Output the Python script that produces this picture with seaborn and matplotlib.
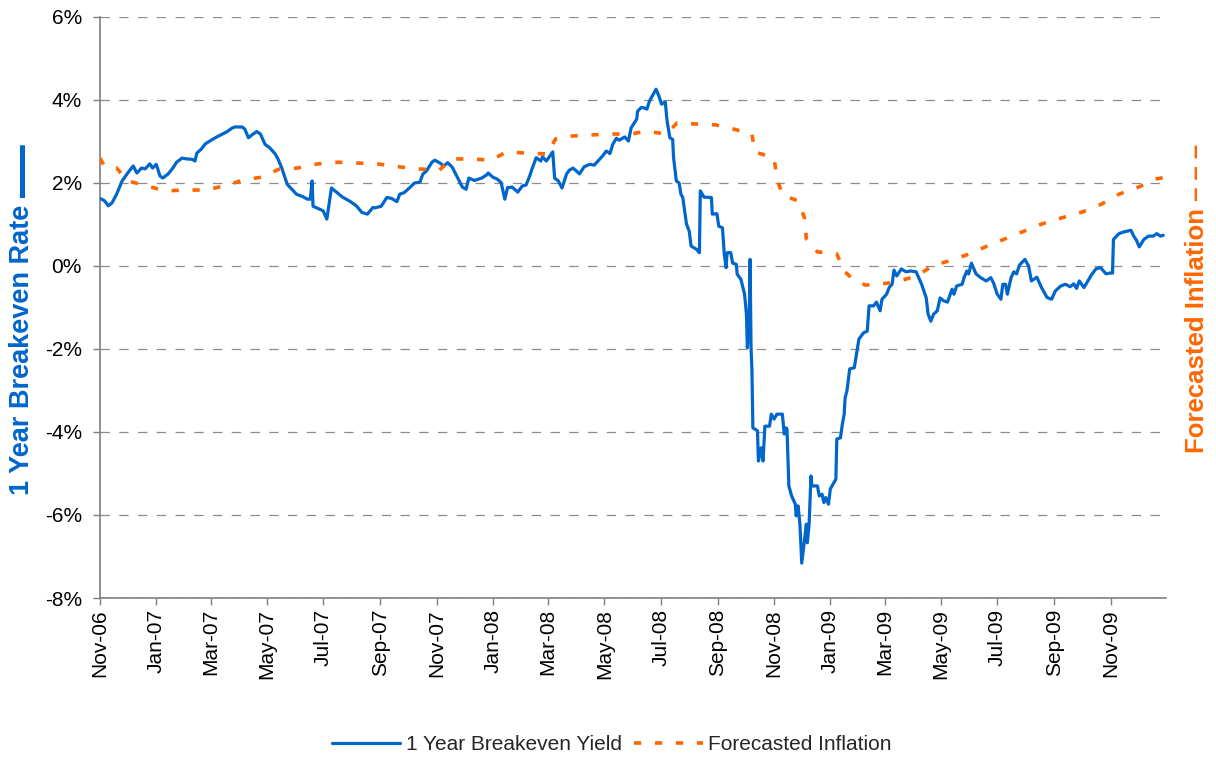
import numpy as np
import pandas as pd
import matplotlib
matplotlib.use("Agg")
import matplotlib.pyplot as plt
from matplotlib.ticker import FuncFormatter, MultipleLocator
import seaborn as sns

# ---------------- data (day offsets from 2006-11-01, values in %) ----------------
breakeven_days = [1, 5, 9, 13, 18, 24, 30, 36, 40, 45, 49, 54, 57, 61, 65, 68, 74, 79, 83, 89,
                  94, 100, 103, 105, 110, 114, 119, 125, 132, 138, 143, 146, 154, 157, 161, 166,
                  170, 174, 179, 184, 190, 193, 197, 203, 208, 213, 220, 225, 228, 230, 231, 236,
                  242, 246, 251, 257, 263, 271, 278, 284, 290, 296, 298, 305, 311, 316, 322, 325,
                  330, 336, 341, 347, 350, 354, 360, 363, 368, 373, 377, 382, 388, 393, 397, 400,
                  406, 414, 419, 421, 426, 431, 435, 439, 442, 447, 453, 458, 462, 466, 469, 473,
                  478, 480, 484, 491, 493, 497, 501, 506, 509, 513, 520, 525, 531, 536, 540, 545,
                  549, 553, 556, 560, 563, 569, 573, 576, 582, 583, 587, 590, 593, 596, 601, 603,
                  606, 609, 613, 615, 618, 621, 622, 625, 628, 630, 632, 636, 639, 641, 647, 650,
                  651, 655, 663, 664, 669, 671, 675, 677, 679, 680, 684, 686, 690, 691, 695, 699,
                  701, 702, 704, 705, 706, 707, 708, 713, 714, 717, 719, 721, 726, 728, 731, 734,
                  740, 742, 744, 745, 747, 750, 754, 755, 757, 759, 761, 766, 767, 769, 771, 772,
                  778, 780, 783, 785, 787, 790, 792, 796, 798, 799, 803, 805, 807, 808, 810, 813,
                  818, 820, 823, 828, 832, 834, 839, 842, 846, 848, 853, 856, 859, 861, 864, 869,
                  874, 879, 885, 887, 891, 896, 898, 901, 904, 908, 911, 915, 919, 924, 926, 929,
                  935, 937, 940, 942, 945, 950, 955, 961, 966, 969, 973, 977, 979, 982, 984, 988,
                  991, 994, 997, 1003, 1007, 1010, 1016, 1021, 1027, 1032, 1036, 1042, 1047, 1052,
                  1056, 1059, 1062, 1067, 1070, 1075, 1080, 1085, 1091, 1095, 1098, 1099, 1105,
                  1110, 1118, 1121, 1124, 1127, 1132, 1137, 1142, 1146, 1150, 1153]
breakeven_vals = [1.62, 1.57, 1.45, 1.52, 1.73, 2.05, 2.24, 2.41, 2.24, 2.36, 2.34, 2.46, 2.36, 2.45,
                  2.17, 2.12, 2.22, 2.36, 2.50, 2.60, 2.58, 2.57, 2.53, 2.72, 2.82, 2.94, 3.01, 3.09,
                  3.17, 3.24, 3.32, 3.35, 3.35, 3.30, 3.09, 3.18, 3.24, 3.18, 2.93, 2.85, 2.70, 2.58,
                  2.37, 1.97, 1.85, 1.73, 1.67, 1.61, 1.61, 2.05, 1.44, 1.39, 1.33, 1.13, 1.88, 1.77,
                  1.66, 1.56, 1.45, 1.29, 1.25, 1.41, 1.40, 1.44, 1.65, 1.63, 1.55, 1.73, 1.77, 1.89,
                  2.00, 2.02, 2.21, 2.29, 2.50, 2.55, 2.49, 2.41, 2.49, 2.38, 2.12, 1.90, 1.85, 2.12,
                  2.06, 2.12, 2.19, 2.24, 2.14, 2.09, 2.01, 1.61, 1.89, 1.90, 1.78, 1.93, 1.95, 2.17,
                  2.37, 2.61, 2.53, 2.63, 2.53, 2.75, 2.12, 2.05, 1.88, 2.22, 2.31, 2.36, 2.22, 2.39,
                  2.45, 2.43, 2.53, 2.65, 2.77, 2.71, 2.93, 3.08, 3.03, 3.11, 3.01, 3.33, 3.54, 3.73,
                  3.82, 3.81, 3.78, 3.98, 4.18, 4.26, 4.10, 3.90, 3.95, 3.49, 3.09, 3.05, 2.61, 2.05,
                  2.00, 1.73, 1.65, 1.01, 0.84, 0.48, 0.40, 0.32, 1.81, 1.66, 1.65, 1.25, 1.26, 0.96,
                  0.92, 0.28, -0.04, 0.32, 0.32, 0.07, 0.04, -0.20, -0.32, -0.68, -1.16, -1.97, -1.33,
                  0.16, -1.97, -2.53, -3.90, -3.97, -4.70, -4.38, -4.70, -3.86, -3.86, -3.57, -3.69,
                  -3.57, -3.57, -4.05, -3.90, -3.93, -5.30, -5.54, -5.74, -6.02, -5.78, -6.22, -7.16,
                  -6.22, -6.67, -6.22, -5.06, -5.30, -5.30, -5.54, -5.50, -5.70, -5.58, -5.74, -5.37,
                  -5.22, -5.14, -4.17, -4.14, -3.81, -3.57, -3.18, -3.01, -2.48, -2.45, -2.17, -1.76,
                  -1.61, -1.57, -0.96, -0.96, -0.87, -1.08, -0.80, -0.68, -0.51, -0.44, -0.10, -0.24,
                  -0.07, -0.14, -0.12, -0.14, -0.24, -0.44, -0.77, -1.16, -1.33, -1.16, -1.08, -0.77,
                  -0.84, -0.87, -0.56, -0.68, -0.48, -0.44, -0.28, -0.12, -0.19, 0.07, -0.19, -0.28,
                  -0.36, -0.28, -0.41, -0.68, -0.80, -0.44, -0.44, -0.68, -0.28, -0.14, -0.19, 0.02,
                  0.16, 0.00, -0.36, -0.27, -0.52, -0.76, -0.80, -0.60, -0.48, -0.44, -0.50, -0.43,
                  -0.54, -0.36, -0.52, -0.41, -0.22, -0.07, -0.04, -0.19, -0.17, -0.17, 0.64, 0.78,
                  0.82, 0.86, 0.72, 0.62, 0.46, 0.64, 0.72, 0.72, 0.78, 0.72, 0.74]

forecast_days = [0, 5, 18, 30, 51, 70, 92, 114, 135, 155, 175, 195, 214, 236, 258, 280, 301, 324,
                 345, 368, 381, 403, 424, 441, 462, 485, 494, 511, 534, 556, 576, 592, 614, 626,
                 647, 668, 687, 707, 710, 731, 734, 740, 757, 764, 766, 778, 799, 807, 815, 830,
                 847, 864, 887, 904, 924, 945, 962, 981, 1000, 1021, 1043, 1065, 1086, 1105, 1126,
                 1146, 1153]
forecast_vals = [2.60, 2.40, 2.36, 2.05, 1.93, 1.81, 1.83, 1.83, 1.93, 2.07, 2.14, 2.34, 2.36, 2.46,
                 2.50, 2.48, 2.46, 2.39, 2.34, 2.31, 2.58, 2.58, 2.55, 2.75, 2.72, 2.70, 3.06, 3.13,
                 3.16, 3.18, 3.18, 3.25, 3.18, 3.45, 3.42, 3.40, 3.30, 3.18, 2.75, 2.60, 2.12, 1.71,
                 1.57, 1.16, 0.65, 0.34, 0.29, -0.12, -0.29, -0.46, -0.43, -0.39, -0.22, 0.02, 0.14,
                 0.31, 0.48, 0.65, 0.82, 1.01, 1.16, 1.30, 1.49, 1.73, 1.90, 2.10, 2.13]

start_date = "2006-11-01"
end_date = "2009-12-31"
series_names = ["1 Year Breakeven Yield", "Forecasted Inflation"]
left_label = "1 Year Breakeven Rate"
left_mark = "\u2014"
right_label = "Forecasted Inflation \u2013 \u2013 \u2013"

BLUE = "#0066CC"
ORANGE = "#FF6600"

# ---------------- build frames ----------------
base = pd.Timestamp(start_date)
df_b = pd.DataFrame({"date": base + pd.to_timedelta(breakeven_days, unit="D"),
                     "value": breakeven_vals})
df_f = pd.DataFrame({"date": base + pd.to_timedelta(forecast_days, unit="D"),
                     "value": forecast_vals})

sns.set_style("white")
plt.rcParams["font.family"] = ["Liberation Sans", "DejaVu Sans"]

fig = plt.figure(figsize=(12.16, 7.61), dpi=100)
ax = fig.add_axes([100 / 1216, 1 - 598 / 761, (1166 - 100) / 1216, (598 - 17) / 761])

sns.lineplot(data=df_b, x="date", y="value", ax=ax, color=BLUE, linewidth=2.3,
             label=series_names[0], zorder=3)
sns.lineplot(data=df_f, x="date", y="value", ax=ax, color=ORANGE, linewidth=2.6,
             label=series_names[1], zorder=4, dashes=False)
ax.lines[1].set_dashes((2.0, 3.8))
ax.lines[1].set_dash_capstyle("butt")

ax.set_xlim(pd.Timestamp(start_date), pd.Timestamp(end_date))
ax.set_ylim(-8, 6)
ax.yaxis.set_major_locator(MultipleLocator(2))
ax.yaxis.set_major_formatter(FuncFormatter(lambda v, p: f"{v:.0f}%"))
ticks = pd.date_range(start_date, "2009-11-01", freq="2MS")
ax.set_xticks(ticks)
ax.set_xticklabels([t.strftime("%b-%y") for t in ticks], rotation=90)

ax.grid(axis="y", color="#8c8c8c", linestyle=(0, (7.5, 7.5)), linewidth=0.9)
ax.grid(axis="x", visible=False)
ax.set_axisbelow(True)
for s in ["top", "right"]:
    ax.spines[s].set_visible(False)
for s in ["left", "bottom"]:
    ax.spines[s].set_color("#7f7f7f")
    ax.spines[s].set_linewidth(1.2)
ax.tick_params(axis="y", which="major", direction="out", length=5, width=1,
               color="#7f7f7f", labelsize=15, labelcolor="black", pad=8, left=True)
ax.tick_params(axis="x", which="major", direction="out", length=5, width=1,
               color="#7f7f7f", labelsize=15, labelcolor="black", pad=3, bottom=True)
ax.set_xlabel("")
ax.set_ylabel("")

fig.text(22 / 1216, 1 - 350 / 761, left_label, rotation=90, ha="center", va="center",
         color=BLUE, fontsize=19.5, fontweight="bold")
fig.text(24 / 1216, 1 - 171 / 761, left_mark, rotation=90, ha="center", va="center",
         color=BLUE, fontsize=38, fontweight="bold")
fig.text(1197 / 1216, 1 - 298 / 761, right_label, rotation=90, ha="center", va="center",
         color=ORANGE, fontsize=18.5, fontweight="bold")

ax.legend_.remove()
handles = ax.lines[:2]
leg = fig.legend(handles, series_names, loc="center", bbox_to_anchor=(0.503, 1 - 745 / 761),
                 ncol=2, frameon=False, fontsize=15, handlelength=3.3, handletextpad=0.25,
                 columnspacing=0.6)

fig.savefig("out.png", dpi=100)
